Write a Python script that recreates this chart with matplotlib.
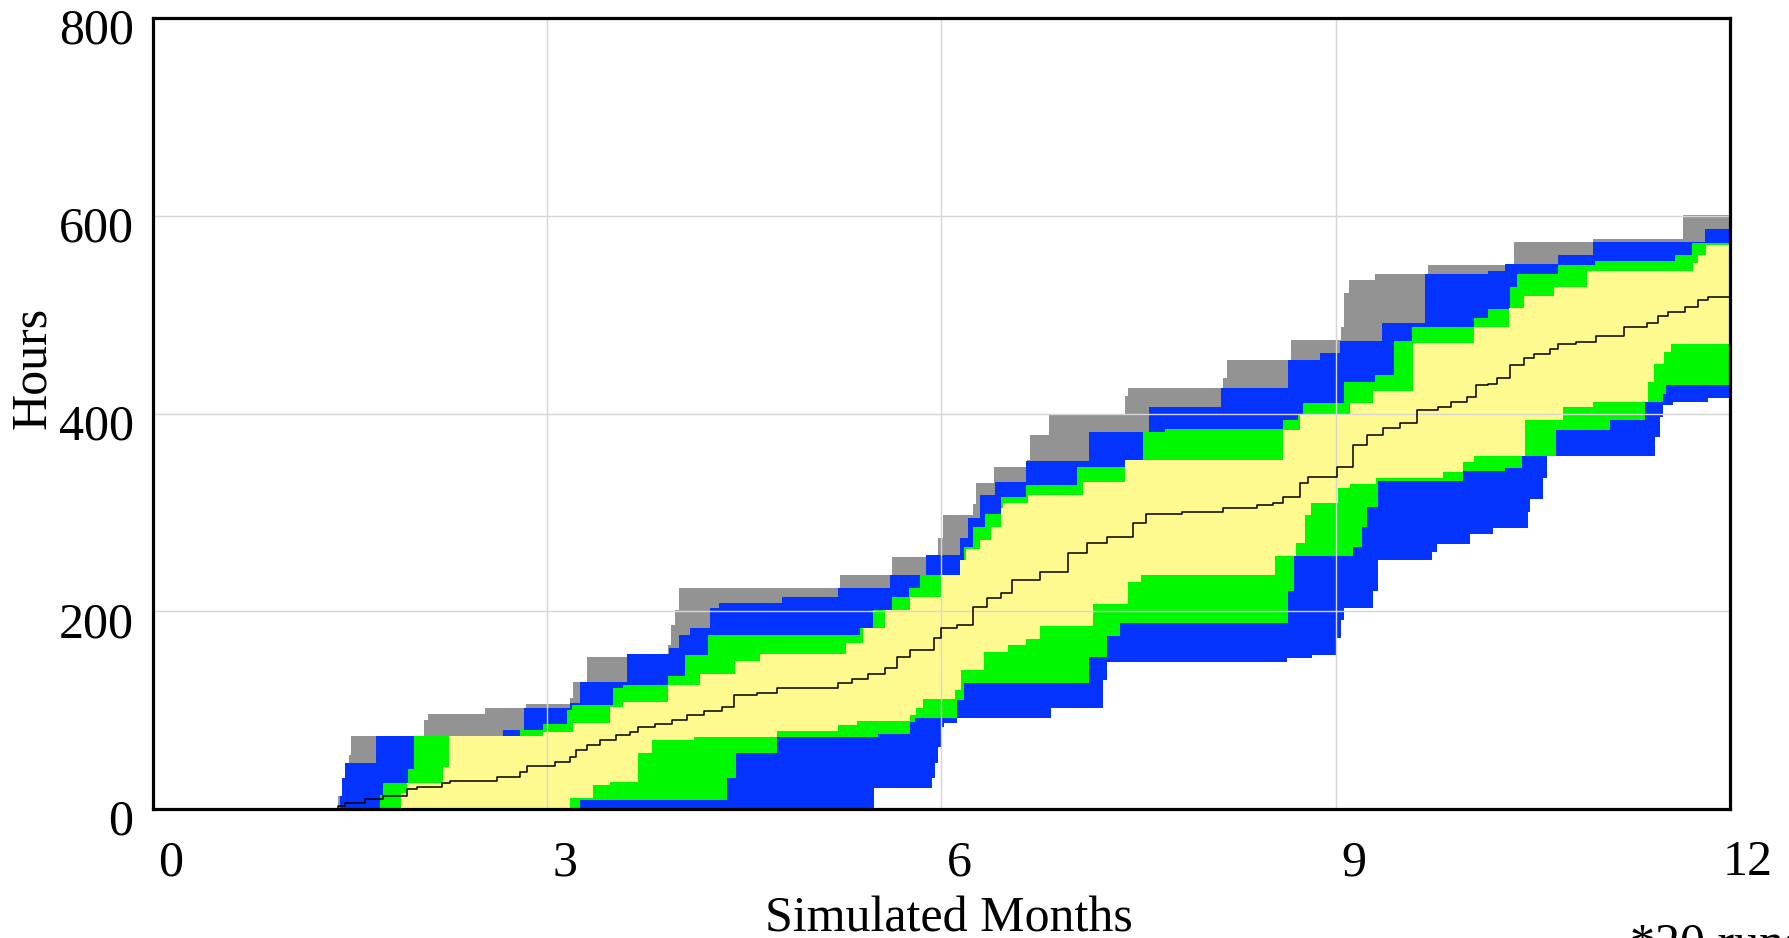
import matplotlib
matplotlib.use("Agg")
import matplotlib.pyplot as plt
import matplotlib.transforms as mtransforms
import numpy as np

plt.rcParams['font.family'] = ['Liberation Serif', 'DejaVu Serif']

# Sensitivity run bands (20 runs): each boundary is a step function, value holds from t until next t
max_t = [0, 1.41, 1.44, 1.46, 1.49, 1.51, 2.06, 2.09, 2.53, 2.84, 3.17, 3.20, 3.30, 3.63, 3.92, 3.94,
         3.97, 4.00, 5.23, 5.62, 5.97, 6.01, 6.24, 6.26, 6.40, 6.65, 6.67, 6.82, 7.40, 7.42, 8.14, 8.17,
         8.66, 9.04, 9.06, 9.10, 9.30, 9.70, 10.36, 10.96, 11.64]
max_v = [0, 13, 31, 47, 55, 74, 90, 96, 102, 106, 112, 128, 154, 157, 166, 186,
         201, 224, 237, 255, 274, 297, 308, 330, 346, 353, 378, 400, 418, 426, 436, 454,
         474, 488, 522, 535, 541, 550, 573, 576, 601]

p95_hi_t = [0, 1.42, 1.44, 1.46, 1.70, 2.66, 2.82, 3.17, 3.25, 3.61, 3.93, 4.00, 4.09, 4.24, 4.31, 4.79,
            5.21, 5.61, 5.88, 6.14, 6.20, 6.29, 6.41, 6.64, 7.12, 7.58, 8.13, 8.64, 8.88, 9.03, 9.35,
            9.68, 10.16, 10.29, 10.69, 10.96, 11.81]
p95_hi_v = [0, 13, 31, 47, 74, 80, 102, 107, 128, 157, 163, 176, 183, 203, 208, 214,
            224, 237, 257, 274, 294, 318, 331, 352, 381, 407, 426, 454, 461, 473, 492,
            541, 544, 551, 560, 573, 587]

p75_hi_t = [0, 1.73, 1.75, 1.94, 1.99, 2.79, 2.97, 3.15, 3.19, 3.50, 3.58, 3.92, 4.05, 4.22, 5.38, 5.48,
            5.62, 5.75, 5.84, 6.14, 6.17, 6.24, 6.33, 6.45, 6.64, 7.03, 7.53, 7.70, 8.60, 8.71, 8.75,
            9.06, 9.30, 9.44, 9.58, 10.05, 10.16, 10.33, 10.38, 10.69, 10.97, 11.58, 11.71]
p75_hi_v = [0, 14, 26, 40, 74, 80, 86, 100, 105, 122, 125, 135, 156, 176, 183, 201,
            214, 224, 237, 252, 265, 285, 298, 316, 328, 346, 381, 384, 393, 400, 411,
            432, 439, 473, 487, 497, 506, 528, 541, 550, 554, 560, 572]

p50_hi_t = [0, 1.89, 1.93, 2.21, 2.25, 2.97, 3.20, 3.48, 3.58, 3.92, 4.16, 4.43, 4.62, 5.27, 5.40, 5.57,
            5.76, 6.00, 6.14, 6.19, 6.29, 6.38, 6.45, 6.47, 6.66, 7.08, 7.40, 8.60, 8.73, 9.11, 9.28,
            9.59, 10.05, 10.32, 10.43, 10.66, 10.91, 11.72, 11.76, 11.82]
p50_hi_v = [0, 16, 26, 42, 74, 78, 87, 103, 108, 125, 137, 150, 157, 168, 183, 201,
            214, 237, 252, 263, 272, 285, 304, 310, 318, 331, 353, 383, 400, 411, 423,
            471, 487, 507, 519, 528, 544, 552, 560, 570]

p50_lo_t = [0, 3.17, 3.35, 3.48, 3.69, 3.80, 4.12, 4.75, 5.21, 5.36, 5.76, 5.81, 5.86, 6.10, 6.15, 6.32,
            6.51, 6.64, 6.75, 7.15, 7.42, 7.52, 8.54, 8.70, 8.77, 8.81, 9.02, 9.11, 9.31, 9.82, 9.97,
            10.05, 10.44, 10.73, 10.96, 11.38, 11.42, 11.50, 11.55]
p50_lo_v = [0, 11, 24, 27, 57, 70, 73, 79, 85, 89, 95, 102, 111, 120, 141, 159,
            166, 172, 185, 207, 230, 237, 256, 269, 297, 309, 325, 329, 335, 341, 351,
            357, 393, 407, 412, 432, 450, 462, 470]

p75_lo_t = [0, 3.25, 4.37, 4.44, 4.75, 5.52, 5.76, 5.80, 6.12, 6.17, 7.12, 7.26, 7.36, 8.64, 8.68,
            9.13, 9.20, 9.24, 9.32, 9.97, 10.29, 10.42, 10.68, 11.09, 11.35, 11.49, 11.51]
p75_lo_v = [0, 9, 31, 57, 73, 76, 88, 92, 110, 127, 154, 175, 188, 221, 256,
            265, 285, 305, 332, 342, 345, 357, 383, 393, 412, 420, 429]

p95_lo_t = [0, 5.49, 5.93, 5.95, 5.97, 6.00, 6.02, 6.12, 6.83, 7.23, 7.26, 8.63, 8.82, 9.01, 9.04,
            9.06, 9.28, 9.32, 9.73, 9.77, 10.02, 10.20, 10.46, 10.48, 10.58, 10.61, 11.43, 11.47,
            11.49, 11.57, 11.83]
p95_lo_v = [0, 21, 31, 47, 63, 83, 87, 92, 102, 130, 149, 153, 156, 173, 191,
            203, 220, 252, 260, 268, 278, 284, 300, 314, 335, 357, 376, 396,
            409, 412, 416]

mean_t = [0, 1.41, 1.46, 1.61, 1.75, 1.93, 2.01, 2.20, 2.26, 2.62, 2.79, 2.85, 3.06, 3.17, 3.22, 3.30,
          3.40, 3.52, 3.63, 3.69, 3.82, 3.95, 4.06, 4.19, 4.33, 4.42, 4.60, 4.75, 5.21, 5.32, 5.44,
          5.57, 5.66, 5.76, 5.94, 6.00, 6.12, 6.24, 6.35, 6.45, 6.54, 6.75, 6.96, 7.11, 7.26, 7.46,
          7.56, 7.83, 8.14, 8.40, 8.52, 8.60, 8.73, 8.79, 9.01, 9.13, 9.24, 9.36, 9.49, 9.62, 9.78,
          9.88, 10.00, 10.07, 10.16, 10.23, 10.33, 10.43, 10.51, 10.63, 10.69, 10.83, 10.98, 11.19,
          11.37, 11.45, 11.53, 11.66, 11.76, 11.83, 12.0]
mean_v = [0, 3, 6, 10, 13, 20, 22, 26, 28, 32, 37, 44, 48, 53, 60, 65,
          70, 75, 78, 83, 86, 90, 95, 99, 103, 115, 117, 122, 127, 132, 137,
          143, 154, 161, 173, 183, 186, 204, 213, 218, 232, 240, 259, 269, 275, 289,
          298, 300, 304, 307, 310, 316, 330, 336, 346, 368, 378, 385, 390, 404, 407,
          412, 417, 429, 430, 436, 449, 456, 460, 465, 470, 472, 478, 487,
          492, 499, 503, 508, 515, 518, 518]

x_ticks = [0, 3, 6, 9, 12]
y_ticks = [0, 200, 400, 600, 800]

band_colors = {'100%': '#939393', '95%': '#0433ff', '75%': '#00f900', '50%': '#fffa90'}


def step_on(t, v, grid):
    idx = np.searchsorted(np.asarray(t), grid, side='right') - 1
    return np.asarray(v, dtype=float)[idx]


grid = np.unique(np.concatenate([max_t, p95_hi_t, p75_hi_t, p50_hi_t, p50_lo_t,
                                 p75_lo_t, p95_lo_t, [12.0]]))

fig = plt.figure(figsize=(17.89, 9.38), dpi=100)
ax = fig.add_axes([0.0855, 0.1375, 0.8815, 0.8433])

lo95 = step_on(p95_lo_t, p95_lo_v, grid)
ax.fill_between(grid, lo95, step_on(max_t, max_v, grid), step='post',
                color=band_colors['100%'], lw=0)
ax.fill_between(grid, lo95, step_on(p95_hi_t, p95_hi_v, grid), step='post',
                color=band_colors['95%'], lw=0)
ax.fill_between(grid, step_on(p75_lo_t, p75_lo_v, grid), step_on(p75_hi_t, p75_hi_v, grid),
                step='post', color=band_colors['75%'], lw=0)
ax.fill_between(grid, step_on(p50_lo_t, p50_lo_v, grid), step_on(p50_hi_t, p50_hi_v, grid),
                step='post', color=band_colors['50%'], lw=0)

ax.step(mean_t, mean_v, where='post', color='black', lw=1.1, zorder=3)

ax.set_xlim(0, 12)
ax.set_ylim(0, 800)
ax.set_xticks(x_ticks)
ax.set_yticks(y_ticks)
ax.set_axisbelow(False)
ax.grid(True, color='#d6d6d6', lw=1.0)
ax.tick_params(length=0, labelsize=36)
ax.tick_params(axis='x', pad=22)
ax.tick_params(axis='y', pad=14)

for sp in ax.spines.values():
    sp.set_linewidth(2.3)
    sp.set_color('black')
    sp.set_zorder(4)

# shift tick labels slightly right / down
dx = mtransforms.ScaledTranslation(18 / 100, 0, fig.dpi_scale_trans)
dy = mtransforms.ScaledTranslation(0, -8 / 100, fig.dpi_scale_trans)
for lbl in ax.get_xticklabels():
    lbl.set_transform(lbl.get_transform() + dx)
for lbl in ax.get_yticklabels():
    lbl.set_transform(lbl.get_transform() + dy)

fig.text(33 / 1789, 1 - 368 / 938, 'Hours', rotation=90, ha='center', va='center', fontsize=36)
fig.text(949 / 1789, 1 - 931 / 938, 'Simulated Months', ha='center', va='baseline', fontsize=36)
fig.text(1630 / 1789, 1 - 957 / 938, '*20 runs', ha='left', va='baseline', fontsize=36)

fig.savefig('out.png', dpi=100)
